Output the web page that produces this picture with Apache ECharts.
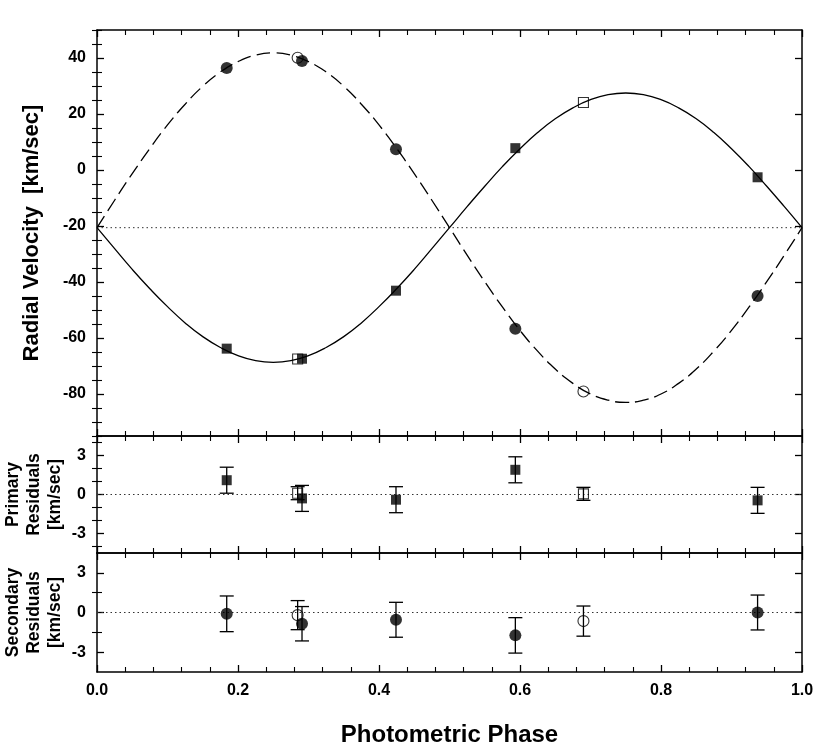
<!DOCTYPE html>
<html><head><meta charset="utf-8">
<script src="https://cdn.jsdelivr.net/npm/echarts@6/dist/echarts.min.js"></script>
<style>html,body{margin:0;padding:0;background:#fff}#c{width:830px;height:752px}</style>
</head><body><div id="c"></div>
<script>
// ---- data ----
const modelPhase = [0,0.025,0.05,0.075,0.1,0.125,0.15,0.175,0.2,0.225,0.25,0.275,0.3,0.325,0.35,0.375,0.4,0.425,0.45,0.475,0.5,0.525,0.55,0.575,0.6,0.625,0.65,0.675,0.7,0.725,0.75,0.775,0.8,0.825,0.85,0.875,0.9,0.925,0.95,0.975,1.0];
const primaryModel = [-20.6,-28.1,-35.5,-42.4,-48.8,-54.6,-59.5,-63.4,-66.3,-68.1,-68.7,-68.1,-66.3,-63.4,-59.5,-54.6,-48.8,-42.4,-35.5,-28.1,-20.6,-13.1,-5.8,1.2,7.6,13.4,18.3,22.2,25.1,26.9,27.5,26.9,25.1,22.2,18.3,13.4,7.6,1.2,-5.8,-13.1,-20.6];
const secondaryModel = [-20.6,-10.8,-1.3,7.7,16.1,23.5,29.9,35.0,38.7,41.0,41.8,41.0,38.7,35.0,29.9,23.5,16.1,7.7,-1.3,-10.8,-20.6,-30.4,-39.9,-48.9,-57.3,-64.7,-71.1,-76.2,-80.0,-82.2,-83.0,-82.2,-80.0,-76.2,-71.1,-64.7,-57.3,-48.9,-39.9,-30.4,-20.6];
const systemicVelocity = -20.6;

const priPhaseFilled = [0.184,0.2908,0.4241,0.5934,0.937];
const priRVFilled    = [-63.8,-67.4,-43.1,7.8,-2.6];
const priResFilled   = [1.1,-0.3,-0.4,1.9,-0.45];
const priErrFilled   = [1.0,1.0,1.0,1.0,1.0];
const priPhaseOpen   = [0.2846,0.690];
const priRVOpen      = [-67.5,24.1];
const priResOpen     = [0.1,0.05];
const priErrOpen     = [0.5,0.5];

const secPhaseFilled = [0.184,0.2908,0.4241,0.5934,0.937];
const secRVFilled    = [36.4,38.9,7.4,-56.7,-45.0];
const secResFilled   = [-0.1,-0.85,-0.55,-1.73,0.0];
const secErrFilled   = [1.35,1.3,1.32,1.34,1.32];
const secPhaseOpen   = [0.2846,0.690];
const secRVOpen      = [40.1,-79.1];
const secResOpen     = [-0.2,-0.65];
const secErrOpen     = [1.1,1.14];

const phaseTicks = [0,0.2,0.4,0.6,0.8,1.0];
const rvTicks = [-80,-60,-40,-20,0,20,40];
const rvMinorTicks = [-95,-90,-85,-75,-70,-65,-55,-50,-45,-35,-30,-25,-15,-10,-5,5,10,15,25,30,35,45,50];
const resTicks = [-3,0,3];
const priResMinorTicks = [-4,-2,-1,1,2,4];
const secResMinorTicks = [-1.5,1.5];

// ---- layout ----
const FONT = 'Liberation Sans, Arial, Helvetica, sans-serif';
const BLK = '#000';
const gridBase = {left:97, right:28, outerBoundsMode:'none', containLabel:false};
const grids = [
  Object.assign({top:30, height:406}, gridBase),
  Object.assign({top:436, height:117}, gridBase),
  Object.assign({top:553, height:119}, gridBase)
];
function xAx(gi, pos, labels, name){
  return {type:'value', gridIndex:gi, position:pos, min:0, max:1, interval:0.2,
    axisLine:{show:true, onZero:false, lineStyle:{color:BLK, width:1.5}},
    axisTick:{show:true, inside:true, length:7, lineStyle:{color:BLK, width:1.3}},
    minorTick:{show:true, splitNumber:5, length:5, lineStyle:{color:BLK, width:1.1}},
    axisLabel:{show:labels, customValues:phaseTicks, formatter:v=>Number(v).toFixed(1), color:BLK, fontFamily:FONT, fontWeight:'bold', fontSize:16, margin:11},
    splitLine:{show:false}, minorSplitLine:{show:false},
    name:name||'', nameLocation:'middle', nameGap:51, nameMoveOverlap:false,
    nameTextStyle:{color:BLK, fontFamily:FONT, fontWeight:'bold', fontSize:24}
  };
}
function yAxes(gi, min, max, major, minor, name, nameGap, nameSize){
  const base = {type:'value', gridIndex:gi, min:min, max:max, splitLine:{show:false}};
  return [
    Object.assign({}, base, {position:'left',
      axisLine:{show:true, onZero:false, lineStyle:{color:BLK, width:1.5}},
      axisTick:{show:true, inside:true, length:7, customValues:major, lineStyle:{color:BLK, width:1.3}},
      axisLabel:{show:true, customValues:major, color:BLK, fontFamily:FONT, fontWeight:'bold', fontSize:16, margin:11},
      name:name, nameLocation:'middle', nameRotate:90, nameGap:nameGap, nameMoveOverlap:false,
      nameTextStyle:{color:BLK, fontFamily:FONT, fontWeight:'bold', fontSize:nameSize, lineHeight:21}}),
    Object.assign({}, base, {position:'left', axisLine:{show:false},
      axisTick:{show:true, inside:true, length:5, customValues:minor, lineStyle:{color:BLK, width:1.1}},
      axisLabel:{show:false}}),
    Object.assign({}, base, {position:'right',
      axisLine:{show:true, onZero:false, lineStyle:{color:BLK, width:1.5}},
      axisTick:{show:true, inside:true, length:7, customValues:major, lineStyle:{color:BLK, width:1.3}},
      axisLabel:{show:false}}),
    Object.assign({}, base, {position:'right', axisLine:{show:false},
      axisTick:{show:true, inside:true, length:5, customValues:minor, lineStyle:{color:BLK, width:1.1}},
      axisLabel:{show:false}})
  ];
}
const xAxis = [
  xAx(0,'bottom',false), xAx(0,'top',false),
  xAx(1,'bottom',false), xAx(1,'top',false),
  xAx(2,'bottom',true,'Photometric Phase'), xAx(2,'top',false)
];
const yAxis = [].concat(
  yAxes(0,-95,50,rvTicks,rvMinorTicks,'Radial Velocity  [km/sec]',55,22),
  yAxes(1,-4.5,4.5,resTicks,priResMinorTicks,'Primary\nResiduals\n[km/sec]',31,17.5),
  yAxes(2,-4.5,4.5,resTicks,secResMinorTicks,'Secondary\nResiduals\n[km/sec]',31,17.5)
);

const zip = (a,b)=>a.map((v,i)=>[v,b[i]]);
const errData = (p,r,e)=>p.map((v,i)=>[v, r[i]-e[i], r[i]+e[i]]);
function errItem(params, api){
  const x = api.value(0), lo = api.value(1), hi = api.value(2);
  const a = api.coord([x, lo]), b = api.coord([x, hi]);
  const w = 7, st = {stroke:BLK, lineWidth:1.3};
  return {type:'group', children:[
    {type:'line', shape:{x1:a[0],y1:a[1],x2:b[0],y2:b[1]}, style:st},
    {type:'line', shape:{x1:a[0]-w,y1:a[1],x2:a[0]+w,y2:a[1]}, style:st},
    {type:'line', shape:{x1:b[0]-w,y1:b[1],x2:b[0]+w,y2:b[1]}, style:st}
  ]};
}
const dotted = {color:'#333', width:1, type:[1.5,3]};
function refLine(xi, yi, y){
  return {type:'line', xAxisIndex:xi, yAxisIndex:yi, data:[[0,y],[1,y]], showSymbol:false, silent:true, lineStyle:dotted, z:1};
}
function scatter(xi, yi, data, symbol, size, open){
  return {type:'scatter', xAxisIndex:xi, yAxisIndex:yi, data:data, symbol:symbol, symbolSize:size, silent:true, z:5,
    itemStyle: open ? {color:'rgba(255,255,255,0)', borderColor:BLK, borderWidth:1.1} : {color:BLK, borderWidth:0}};
}
const series = [
  refLine(0,0,systemicVelocity),
  {type:'line', xAxisIndex:0, yAxisIndex:0, data:zip(modelPhase,primaryModel), smooth:true, showSymbol:false, silent:true, lineStyle:{color:BLK, width:1.3}, z:2},
  {type:'line', xAxisIndex:0, yAxisIndex:0, data:zip(modelPhase,secondaryModel), smooth:true, showSymbol:false, silent:true, lineStyle:{color:BLK, width:1.3, type:[14,6]}, z:2},
  scatter(0,0,zip(priPhaseOpen,priRVOpen),'rect',10,true),
  scatter(0,0,zip(secPhaseOpen,secRVOpen),'circle',11,true),
  scatter(0,0,zip(priPhaseFilled,priRVFilled),'rect',10,false),
  scatter(0,0,zip(secPhaseFilled,secRVFilled),'circle',12,false),

  refLine(2,4,0),
  {type:'custom', xAxisIndex:2, yAxisIndex:4, renderItem:errItem, data:errData(priPhaseOpen,priResOpen,priErrOpen), silent:true, z:3},
  {type:'custom', xAxisIndex:2, yAxisIndex:4, renderItem:errItem, data:errData(priPhaseFilled,priResFilled,priErrFilled), silent:true, z:3},
  scatter(2,4,zip(priPhaseOpen,priResOpen),'rect',10,true),
  scatter(2,4,zip(priPhaseFilled,priResFilled),'rect',10,false),

  refLine(4,8,0),
  {type:'custom', xAxisIndex:4, yAxisIndex:8, renderItem:errItem, data:errData(secPhaseOpen,secResOpen,secErrOpen), silent:true, z:3},
  {type:'custom', xAxisIndex:4, yAxisIndex:8, renderItem:errItem, data:errData(secPhaseFilled,secResFilled,secErrFilled), silent:true, z:3},
  scatter(4,8,zip(secPhaseOpen,secResOpen),'circle',11,true),
  scatter(4,8,zip(secPhaseFilled,secResFilled),'circle',12,false)
];

const chart = echarts.init(document.getElementById('c'), null, {renderer:'canvas'});
chart.setOption({backgroundColor:'#fff', animation:false, grid:grids, xAxis:xAxis, yAxis:yAxis, series:series});
</script></body></html>
